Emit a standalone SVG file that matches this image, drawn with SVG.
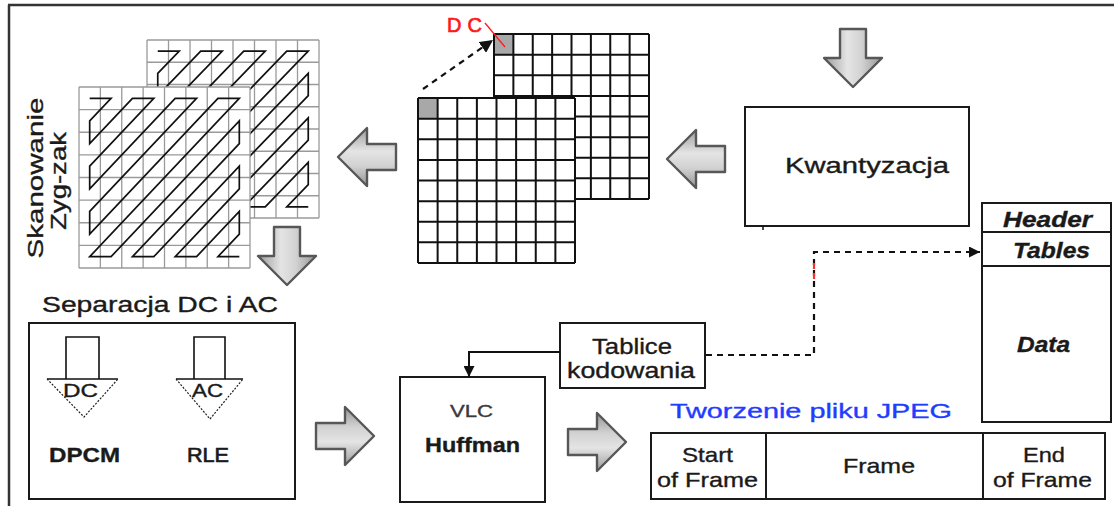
<svg xmlns="http://www.w3.org/2000/svg" xmlns:xlink="http://www.w3.org/1999/xlink" width="1114" height="506" viewBox="0 0 1114 506">
  <defs>
    <style>
      .t { font-family: "Liberation Sans", Arial, sans-serif; fill: #1a1a1a; stroke: #1a1a1a; stroke-width: 0.35; }
      .box { fill: #fff; stroke: #1a1a1a; stroke-width: 2; }
      .grid-lt { fill: none; stroke: #9a9a9a; stroke-width: 1.3; }
      .grid-dk { fill: none; stroke: #111; stroke-width: 2; }
      .zig { fill: none; stroke: #111; stroke-width: 1.7; stroke-linejoin: miter; }
      .big { fill: url(#arrowFill); stroke: #575757; stroke-width: 2.4; stroke-linejoin: round; }
      .dash { fill: none; stroke: #111; stroke-width: 2.2; stroke-dasharray: 6 5; }
      .inner { fill: none; stroke: #111; stroke-width: 1.6; }
      .tri { fill: none; stroke: #222; stroke-width: 1.2; stroke-dasharray: 2 1.5; }
    </style>
    <linearGradient id="arrowFill" x1="0" y1="0" x2="0" y2="1">
      <stop offset="0" stop-color="#969696"/>
      <stop offset="0.35" stop-color="#d2d2d2"/>
      <stop offset="0.6" stop-color="#e4e4e4"/>
      <stop offset="1" stop-color="#9c9c9c"/>
    </linearGradient>
    <!-- big 3D block arrow, pointing right, centred on origin -->
    <path id="bigArrow" d="M-29,-13 H0 V-29 L29,0 L0,29 V13 H-29 Z"/>
    <marker id="head" viewBox="0 0 10 10" refX="10" refY="5" markerWidth="11" markerHeight="11" markerUnits="userSpaceOnUse" orient="auto">
      <path d="M0,0 L10,5 L0,10 Z" fill="#111"/>
    </marker>
    <marker id="headBig" viewBox="0 0 10 10" refX="10" refY="5" markerWidth="13" markerHeight="13" markerUnits="userSpaceOnUse" orient="auto">
      <path d="M0,0 L10,5 L0,10 Z" fill="#111"/>
    </marker>
  </defs>

  <rect width="1114" height="506" fill="#fff"/>

  <!-- frame edges -->
  <path d="M8,5 H1114 M9,5 V506" fill="none" stroke="#333" stroke-width="2.5"/>

  <!-- zig-zag scan of two 8x8 blocks -->
  <g id="zigzag">
    <g transform="translate(147,40) scale(21.5,22.25)">
      <rect width="8" height="8" fill="#fff"/>
      <path class="grid-lt" vector-effect="non-scaling-stroke" d="M0 0V8M1 0V8M2 0V8M3 0V8M4 0V8M5 0V8M6 0V8M7 0V8M8 0V8M0 0H8M0 1H8M0 2H8M0 3H8M0 4H8M0 5H8M0 6H8M0 7H8M0 8H8"/>
      <polyline class="zig" vector-effect="non-scaling-stroke" transform="translate(0.5,0.5)" points="0,0 1,0 0,1 0,2 2,0 3,0 0,3 0,4 4,0 5,0 0,5 0,6 6,0 7,0 0,7 1,7 7,1 7,2 2,7 3,7 7,3 7,4 4,7 5,7 7,5 7,6 6,7 7,7"/>
    </g>
    <g transform="translate(79,87) scale(21.375,22.625)">
      <rect width="8" height="8" fill="#fff"/>
      <path class="grid-lt" vector-effect="non-scaling-stroke" d="M0 0V8M1 0V8M2 0V8M3 0V8M4 0V8M5 0V8M6 0V8M7 0V8M8 0V8M0 0H8M0 1H8M0 2H8M0 3H8M0 4H8M0 5H8M0 6H8M0 7H8M0 8H8"/>
      <polyline class="zig" vector-effect="non-scaling-stroke" transform="translate(0.5,0.5)" points="0,0 1,0 0,1 0,2 2,0 3,0 0,3 0,4 4,0 5,0 0,5 0,6 6,0 7,0 0,7 1,7 7,1 7,2 2,7 3,7 7,3 7,4 4,7 5,7 7,5 7,6 6,7 7,7"/>
    </g>
    <text class="t" font-size="22" text-anchor="middle" textLength="161" lengthAdjust="spacingAndGlyphs" transform="translate(43,178) rotate(-90)">Skanowanie</text>
    <text class="t" font-size="22" text-anchor="middle" textLength="98" lengthAdjust="spacingAndGlyphs" transform="translate(66,181) rotate(-90)">Zyg-zak</text>
  </g>

  <!-- two quantised 8x8 blocks with their DC cells -->
  <g id="blocks">
    <g transform="translate(494,34) scale(19.375,20.625)">
      <rect width="8" height="8" fill="#fff"/>
      <rect width="1" height="1" fill="#a8a8a8"/>
      <path class="grid-dk" vector-effect="non-scaling-stroke" d="M0 0V8M1 0V8M2 0V8M3 0V8M4 0V8M5 0V8M6 0V8M7 0V8M8 0V8M0 0H8M0 1H8M0 2H8M0 3H8M0 4H8M0 5H8M0 6H8M0 7H8M0 8H8"/>
    </g>
    <g transform="translate(418,98) scale(19.625,20.625)">
      <rect width="8" height="8" fill="#fff"/>
      <rect width="1" height="1" fill="#a8a8a8"/>
      <path class="grid-dk" vector-effect="non-scaling-stroke" d="M0 0V8M1 0V8M2 0V8M3 0V8M4 0V8M5 0V8M6 0V8M7 0V8M8 0V8M0 0H8M0 1H8M0 2H8M0 3H8M0 4H8M0 5H8M0 6H8M0 7H8M0 8H8"/>
    </g>
    <text class="t" x="447" y="32" font-size="20" style="fill:#ff1a1a;stroke:#ff1a1a;stroke-width:0.7" textLength="35" lengthAdjust="spacing">DC</text>
  </g>

  <g id="kwantyzacja">
    <rect class="box" x="745" y="107" width="224" height="119"/>
    <path d="M763,226 V230" stroke="#111" stroke-width="1.5"/>
    <text class="t" x="785" y="173" font-size="22" textLength="164" lengthAdjust="spacingAndGlyphs">Kwantyzacja</text>
  </g>

  <g id="jpeg-file">
    <rect class="box" x="982" y="203" width="129" height="219"/>
    <path d="M982,232 H1111 M982,266 H1111" stroke="#1a1a1a" stroke-width="2"/>
    <text class="t" x="1003" y="227" font-size="22" font-weight="bold" font-style="italic" textLength="89" lengthAdjust="spacingAndGlyphs">Header</text>
    <text class="t" x="1013" y="258" font-size="22" font-weight="bold" font-style="italic" textLength="77" lengthAdjust="spacingAndGlyphs">Tables</text>
    <text class="t" x="1017" y="352" font-size="22" font-weight="bold" font-style="italic" textLength="53" lengthAdjust="spacingAndGlyphs">Data</text>
  </g>

  <g id="separacja">
    <text class="t" x="42" y="312" font-size="22" textLength="236" lengthAdjust="spacingAndGlyphs">Separacja DC i AC</text>
    <rect class="box" x="29" y="323" width="266" height="176"/>
    <!-- DC branch -->
    <path class="inner" d="M66,379 V337 H99 V379 M47,379 H118"/>
    <path class="tri" d="M47,379 L84,417 L118,379"/>
    <text class="t" x="63" y="397" font-size="18" textLength="35" lengthAdjust="spacingAndGlyphs">DC</text>
    <!-- AC branch -->
    <path class="inner" d="M194,379 V337 H225 V379 M176,379 H243"/>
    <path class="tri" d="M176,379 L210,419 L243,379"/>
    <text class="t" x="192" y="397" font-size="18" textLength="31" lengthAdjust="spacingAndGlyphs">AC</text>
    <text class="t" x="49" y="462" font-size="21" font-weight="bold" textLength="71" lengthAdjust="spacingAndGlyphs">DPCM</text>
    <text class="t" x="187" y="462" font-size="21" style="stroke-width:0.7" textLength="42" lengthAdjust="spacingAndGlyphs">RLE</text>
  </g>

  <g id="tablice">
    <rect class="box" x="560" y="323" width="145" height="65"/>
    <text class="t" x="592" y="354" font-size="22" textLength="80" lengthAdjust="spacingAndGlyphs">Tablice</text>
    <text class="t" x="567" y="378" font-size="22" textLength="128" lengthAdjust="spacingAndGlyphs">kodowania</text>
  </g>

  <g id="vlc">
    <rect class="box" x="400" y="377" width="145" height="125"/>
    <text class="t" x="450" y="417" font-size="16" style="fill:#3a3a3a;stroke:#3a3a3a" textLength="43" lengthAdjust="spacingAndGlyphs">VLC</text>
    <text class="t" x="425" y="452" font-size="21" font-weight="bold" textLength="95" lengthAdjust="spacingAndGlyphs">Huffman</text>
  </g>

  <g id="frame">
    <text class="t" x="670" y="418" font-size="20" style="fill:#1f3dff;stroke:#1f3dff" textLength="282" lengthAdjust="spacingAndGlyphs">Tworzenie pliku JPEG</text>
    <rect class="box" x="651" y="433" width="454" height="66"/>
    <path d="M766,433 V499 M983,433 V499" stroke="#1a1a1a" stroke-width="2"/>
    <text class="t" x="682" y="462" font-size="21" textLength="51" lengthAdjust="spacingAndGlyphs">Start</text>
    <text class="t" x="657" y="487" font-size="21" textLength="101" lengthAdjust="spacingAndGlyphs">of Frame</text>
    <text class="t" x="843" y="473" font-size="21" textLength="72" lengthAdjust="spacingAndGlyphs">Frame</text>
    <text class="t" x="1023" y="462" font-size="21" textLength="42" lengthAdjust="spacingAndGlyphs">End</text>
    <text class="t" x="993" y="487" font-size="21" textLength="99" lengthAdjust="spacingAndGlyphs">of Frame</text>
  </g>

  <!-- flow arrows between the stages -->
  <g id="flow-arrows">
    <use xlink:href="#bigArrow" class="big" transform="translate(853,58) rotate(90)"/>
    <use xlink:href="#bigArrow" class="big" transform="translate(696,159) rotate(180)"/>
    <use xlink:href="#bigArrow" class="big" transform="translate(367,157) rotate(180)"/>
    <use xlink:href="#bigArrow" class="big" transform="translate(287,256) rotate(90)"/>
    <use xlink:href="#bigArrow" class="big" transform="translate(345,436)"/>
    <use xlink:href="#bigArrow" class="big" transform="translate(597,442)"/>
  </g>

  <g id="connectors">
    <!-- DC of previous block to DC of next block -->
    <path class="dash" d="M423,89 L493,40" stroke-width="2.6" stroke-dasharray="5 4" marker-end="url(#headBig)"/>
    <path d="M485,23 L505,47" stroke="#ff1a1a" stroke-width="1.3" fill="none"/>
    <!-- coding tables into the file header -->
    <path class="dash" d="M706,355 H814 V252 H980" marker-end="url(#head)"/>
    <path d="M814,263 V281" stroke="#ff3030" stroke-width="2.2" stroke-dasharray="6 4" fill="none"/>
    <!-- coding tables feed the Huffman coder -->
    <path d="M560,352 H469 V377" fill="none" stroke="#111" stroke-width="2" marker-end="url(#head)"/>
  </g>
</svg>
